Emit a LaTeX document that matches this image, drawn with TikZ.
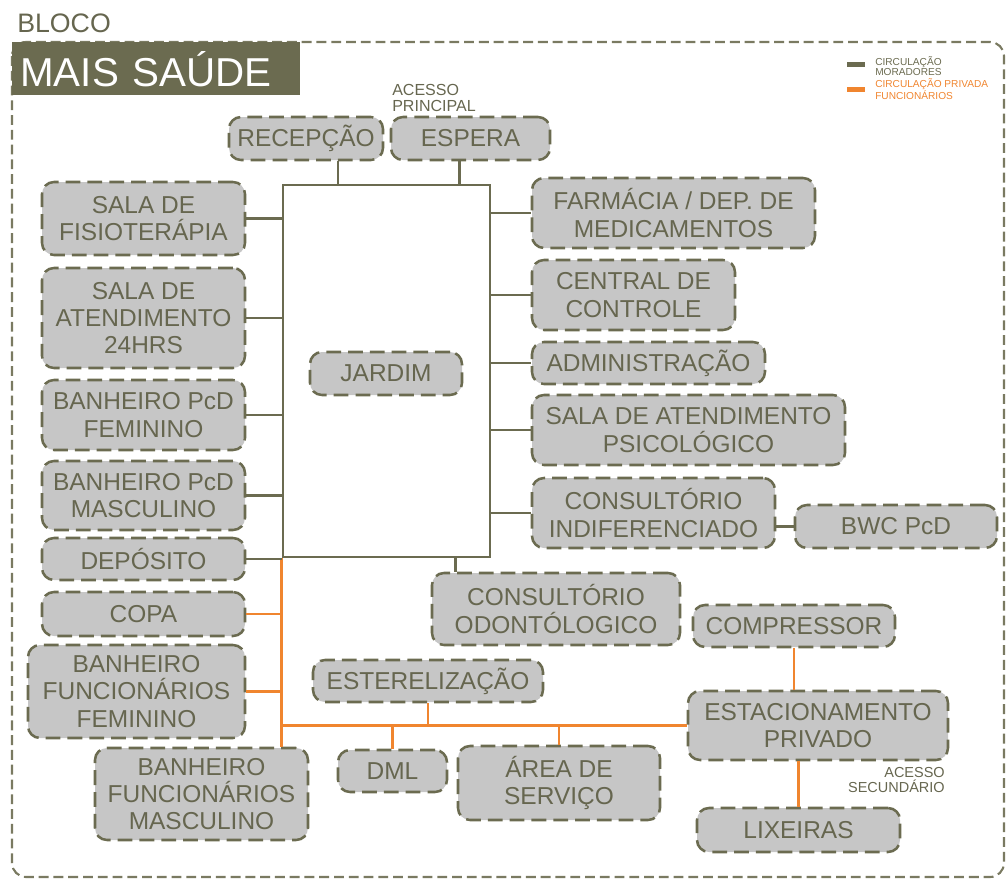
\documentclass[tikz,border=0pt]{standalone}
\usepackage{fontspec}
\setmainfont{Liberation Sans}
\usetikzlibrary{calc}
\definecolor{oliva}{HTML}{6B6B50}
\definecolor{textocx}{HTML}{66664F}
\definecolor{cinza}{HTML}{C6C6C6}
\definecolor{laranja}{HTML}{F0852F}
\tikzstyle{sala} = [rectangle, 
rounded corners=0.3cm, 
draw=oliva, 
line width=1.8pt, 
dash pattern=on 10.5pt off 5pt, 
fill=cinza, 
text=textocx, 
align=center, 
inner sep=0pt, 
font=\fontsize{17.4}{19.4}\selectfont]
\tikzstyle{morador} = [draw=oliva, line width=1.8pt]
\tikzstyle{funcionario} = [draw=laranja, line width=1.8pt]
\tikzstyle{moldura} = [draw=oliva!90, line width=1.5pt, dash pattern=on 7pt off 3.5pt, rounded corners=0.35cm]
\tikzset{tam/.style 2 args={minimum width=#1*0.025cm, minimum height=#2*0.025cm}}

\begin{document}
\begin{tikzpicture}[x=0.025cm, y=-0.025cm]
    \useasboundingbox (0,0) rectangle (1008,881);

    % frame and title
    \draw [moldura] (12,42) rectangle (1004,877);
    \node (bloco) [anchor=base west, text=textocx, font=\fontsize{19}{19}\selectfont, inner sep=0pt] at (17,32) {BLOCO};
    \node (titulo) [anchor=north west, fill=oliva, text=white, text width=6.8cm, inner xsep=0.2cm, minimum height=53*0.025cm, font=\fontsize{28.7}{28.7}\selectfont] at (12,42) {MAIS SAÚDE};

    % legend
    \node (legmor) [fill=oliva, inner sep=0pt, tam={18}{5}] at (856,64) {};
    \node (legfunc) [fill=laranja, inner sep=0pt, tam={18}{5}] at (856,89) {};
    \node (txtmor) [anchor=west, align=left, text=oliva, inner sep=0pt, font=\fontsize{7.2}{7.6}\selectfont] at (875,66) {CIRCULAÇÃO\\MORADORES};
    \node (txtfunc) [anchor=west, align=left, text=laranja, inner sep=0pt, font=\fontsize{7.2}{7.6}\selectfont] at (875,89) {CIRCULAÇÃO PRIVADA\\FUNCIONÁRIOS};

    % accesses
    \node (acessop) [anchor=south west, align=left, text=textocx, inner sep=0pt, font=\fontsize{11.4}{11.6}\selectfont] at (392,112) {ACESSO\\PRINCIPAL};
    \node (acessos) [anchor=north east, align=right, text=textocx, inner sep=0pt, font=\fontsize{10.3}{10.4}\selectfont] at (945,767) {ACESSO\\SECUNDÁRIO};

    % courtyard
    \node (patio) [draw=oliva, line width=1.8pt, tam={207}{372}] at (386.5,371) {};
    \node (jardim) [sala, tam={152}{43}] at (386,373.5) {JARDIM};

    % top
    \node (recep) [sala, tam={154}{43}] at (306,138.5) {RECEPÇÃO};
    \node (espera) [sala, tam={159}{43}] at (470.5,138.5) {ESPERA};

    % left column
    \node (fisio) [sala, tam={203}{73}] at (143.5,218.5) {SALA DE\\FISIOTERÁPIA};
    \node (atend) [sala, tam={203}{100}] at (143.5,318) {SALA DE\\ATENDIMENTO\\24HRS};
    \node (bpcdf) [sala, tam={203}{70}] at (143.5,415) {BANHEIRO PcD\\FEMININO};
    \node (bpcdm) [sala, tam={203}{69}] at (143.5,495.5) {BANHEIRO PcD\\MASCULINO};
    \node (depos) [sala, tam={203}{42}] at (143.5,559) {DEPÓSITO};
    \node (copa) [sala, tam={203}{44}] at (143.5,614) {COPA};
    \node (bff) [sala, tam={217}{93}] at (136.5,691.5) {BANHEIRO\\FUNCIONÁRIOS\\FEMININO};
    \node (bfm) [sala, tam={213}{92}] at (201.5,794) {BANHEIRO\\FUNCIONÁRIOS\\MASCULINO};

    % right column
    \node (farm) [sala, tam={283}{70}] at (673.5,213) {FARMÁCIA / DEP. DE\\MEDICAMENTOS};
    \node (central) [sala, tam={203}{70}] at (633.5,295) {CENTRAL DE\\CONTROLE};
    \node (admin) [sala, tam={233}{42}] at (648.5,363) {ADMINISTRAÇÃO};
    \node (psico) [sala, tam={313}{70}] at (688.5,430) {SALA DE ATENDIMENTO\\PSICOLÓGICO};
    \node (indif) [sala, tam={243}{70}] at (653.5,513) {CONSULTÓRIO\\INDIFERENCIADO};
    \node (bwc) [sala, tam={202}{43}] at (896,526.5) {BWC PcD};

    % bottom
    \node (odonto) [sala, tam={248}{72}] at (556,609) {CONSULTÓRIO\\ODONTÓLOGICO};
    \node (compr) [sala, tam={202}{42}] at (794,626) {COMPRESSOR};
    \node (ester) [sala, tam={230}{42}] at (428,681) {ESTERELIZAÇÃO};
    \node (estac) [sala, tam={260}{69}] at (818,725.5) {ESTACIONAMENTO\\PRIVADO};
    \node (dml) [sala, tam={109}{42}] at (392.5,771) {DML};
    \node (servico) [sala, tam={202}{74}] at (559,783) {ÁREA DE\\SERVIÇO};
    \node (lixo) [sala, tam={203}{44}] at (798.5,830) {LIXEIRAS};

    % staff circulation
    \draw [funcionario] (patio.south west) -- (patio.south west |- bfm.north);
    \draw [funcionario] (copa.east) -- (copa.east -| patio.west);
    \draw [funcionario] (bff.east) -- (bff.east -| patio.west);
    \draw [funcionario] (estac.west) -- (estac.west -| patio.west);
    \draw [funcionario] (ester.south) -- (ester.south |- estac.west);
    \draw [funcionario] (dml.north) -- (dml.north |- estac.west);
    \draw [funcionario] (servico.north) -- (servico.north |- estac.west);
    \draw [funcionario] (compr.south) -- (compr.south |- estac.north);
    \draw [funcionario] (lixo.north) -- (lixo.north |- estac.south);

    % residents circulation
    \coordinate (rp) at ($(recep.south) + (32, 0)$);
    \coordinate (ep) at ($(espera.south) + (-11, 0)$);
    \coordinate (op) at ($(odonto.north west) + (25, 0)$);
    \draw [morador] (rp) -- (rp |- patio.north);
    \draw [morador] (ep) -- (ep |- patio.north);
    \draw [morador] (op) -- (op |- patio.south);
    \foreach \s in {fisio, atend, bpcdf, bpcdm, depos}
        \draw [morador] (\s.east) -- (\s.east -| patio.west);
    \foreach \s in {farm, central, admin, psico, indif}
        \draw [morador] (\s.west) -- (\s.west -| patio.east);
    \draw [morador] (bwc.west) -- (bwc.west -| indif.east);
  \end{tikzpicture}
\end{document}
